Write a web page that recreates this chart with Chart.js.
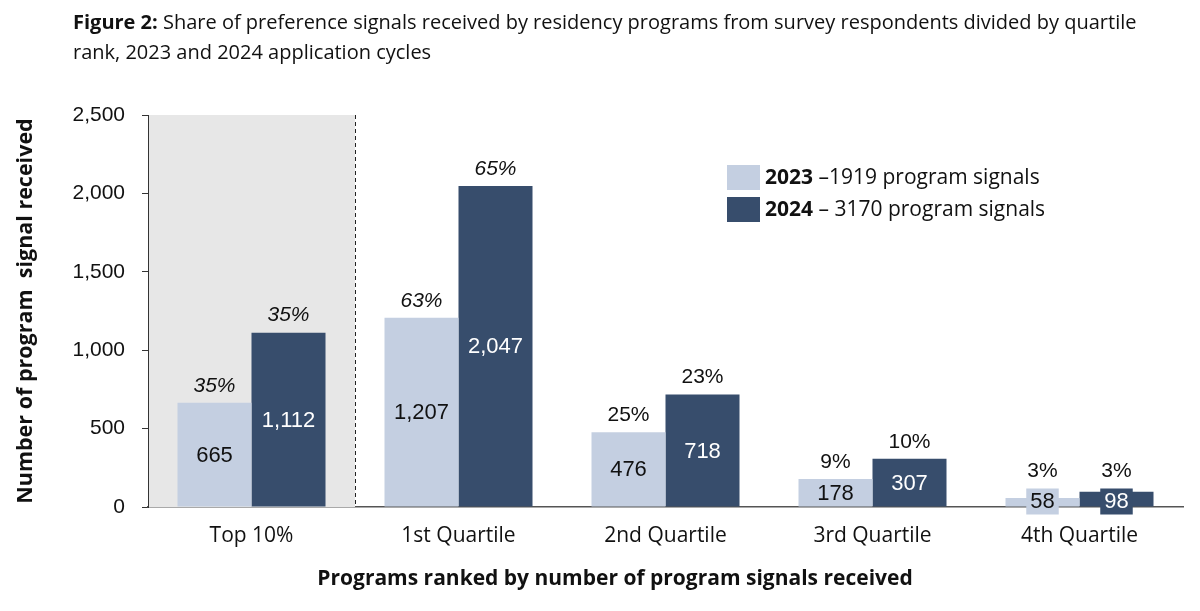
<!DOCTYPE html>
<html>
<head>
<meta charset="utf-8">
<script src="https://cdn.jsdelivr.net/npm/chart.js@4"></script>
<style>
  html, body { margin: 0; padding: 0; background: #fff; }
  #wrap { position: relative; width: 1200px; height: 611px; }
  #title {
    position: absolute; left: 73px; top: 7px;
    font-family: "Open Sans", sans-serif; font-size: 20px; line-height: 30px; color: #111;
    white-space: nowrap;
  }
  #xtitle {
    position: absolute; left: 215px; width: 800px; top: 563px; text-align: center;
    font-family: "Open Sans", sans-serif; font-weight: bold; font-size: 21px; color: #111;
  }
  canvas { position: absolute; left: 0; top: 0; }
</style>
</head>
<body>
<div id="wrap">
  <canvas id="chart" width="1200" height="611"></canvas>
  <div id="title"><b>Figure 2:</b> Share of preference signals received by residency programs from survey respondents divided by quartile<br>rank, 2023 and 2024 application cycles</div>
  <div id="xtitle">Programs ranked by number of program signals received</div>
</div>
<script>
const categories = ["Top 10%", "1st Quartile", "2nd Quartile", "3rd Quartile", "4th Quartile"];
const signals2023 = [665, 1207, 476, 178, 58];
const signals2024 = [1112, 2047, 718, 307, 98];
const share2023 = ["35%", "63%", "25%", "9%", "3%"];
const share2024 = ["35%", "65%", "23%", "10%", "3%"];
const yTicks = [0, 500, 1000, 1500, 2000, 2500];
const legendBold = ["2023", "2024"];
const legendRest = [" \u20131919 program signals", " \u2013 3170 program signals"];

const lightBlue = "#c4cfe1";
const darkBlue = "#374d6c";
const numFont = "Liberation Sans, Arial, sans-serif";
const txtFont = "Open Sans, sans-serif";

// grey band behind the Top 10% group plus dashed separator
const bandPlugin = {
    id: "band",
    beforeDatasetsDraw (chart) {
        const { ctx, chartArea, scales } = chart;
        const sep = (scales.x.getPixelForValue(0) + scales.x.getPixelForValue(1)) / 2;
        ctx.save();
        ctx.fillStyle = "#e7e7e7";
        ctx.fillRect(chartArea.left + 1, chartArea.top, sep - chartArea.left - 1, chartArea.bottom - chartArea.top);
        ctx.strokeStyle = "#222";
        ctx.lineWidth = 1;
        ctx.setLineDash([4, 3]);
        ctx.beginPath();
        ctx.moveTo(Math.round(sep) + 0.5, chartArea.top);
        ctx.lineTo(Math.round(sep) + 0.5, chartArea.bottom);
        ctx.stroke();
        ctx.restore();
    }
};

// value labels inside bars, share labels above, and the legend
const labelPlugin = {
    id: "labels",
    afterDatasetsDraw (chart) {
        const { ctx } = chart;
        const shares = [share2023, share2024];
        const textColors = ["#111", "#fff"];
        ctx.save();
        ctx.textAlign = "center";
        ctx.textBaseline = "middle";
        chart.data.datasets.forEach((ds, di) => {
            const meta = chart.getDatasetMeta(di);
            meta.data.forEach((bar, i) => {
                const txt = ds.data[i].toLocaleString("en-US");
                ctx.font = "22px " + numFont;
                const h = bar.base - bar.y;
                let cy = (bar.y + bar.base) / 2;
                let top = bar.y;
                if (h < 26) {
                    cy = bar.base - 6;
                    const w = ctx.measureText(txt).width + 8;
                    ctx.fillStyle = ds.backgroundColor;
                    ctx.fillRect(bar.x - w / 2, cy - 12, w, 26);
                    top = Math.min(top, cy - 12);
                }
                ctx.fillStyle = textColors[di];
                ctx.fillText(txt, bar.x, cy + 1);
                ctx.fillStyle = "#111";
                ctx.font = (i < 2 ? "italic " : "") + "21px " + numFont;
                ctx.fillText(shares[di][i], bar.x, top - 17);
            });
        });
        // legend
        const colors = [lightBlue, darkBlue];
        ctx.textAlign = "left";
        colors.forEach((c, k) => {
            const y = 165 + k * 32;
            ctx.fillStyle = c;
            ctx.fillRect(727, y, 33, 25);
            ctx.fillStyle = "#111";
            ctx.font = "bold 21px " + txtFont;
            ctx.fillText(legendBold[k], 765, y + 13);
            const bw = ctx.measureText(legendBold[k]).width;
            ctx.font = "21px " + txtFont;
            ctx.fillText(legendRest[k], 765 + bw, y + 13);
        });
        ctx.restore();
    }
};

new Chart(document.getElementById("chart"), {
    type: "bar",
    data: {
        labels: categories,
        datasets: [
            { label: "2023", data: signals2023, backgroundColor: lightBlue },
            { label: "2024", data: signals2024, backgroundColor: darkBlue },
        ],
    },
    options: {
        responsive: false,
        animation: false,
        devicePixelRatio: 1,
        categoryPercentage: 0.715,
        barPercentage: 1.0,
        layout: { padding: { top: 115, right: 17, bottom: 0, left: 0 } },
        plugins: { legend: { display: false }, tooltip: { enabled: false } },
        scales: {
            x: {
                afterFit (scale) { scale.height = 104; },
                grid: { display: false, drawTicks: false },
                border: { color: "#555", width: 1.5 },
                ticks: { color: "#111", padding: 16, font: { family: txtFont, size: 21 } },
            },
            y: {
                min: 0,
                max: 2500,
                afterFit (scale) { scale.width = 148; },
                afterBuildTicks (scale) { scale.ticks = yTicks.map(v => ({ value: v })); },
                grid: { drawOnChartArea: false, tickLength: 6, color: "#333" },
                border: { color: "#333", width: 1 },
                ticks: {
                    color: "#111",
                    padding: 17,
                    font: { family: numFont, size: 21 },
                    callback: v => v.toLocaleString("en-US"),
                },
                title: {
                    display: true,
                    text: "Number of program  signal received",
                    color: "#111",
                    padding: { top: 13, bottom: 0 },
                    font: { family: txtFont, size: 21.5, weight: "bold" },
                },
            },
        },
    },
    plugins: [bandPlugin, labelPlugin],
});
</script>
</body>
</html>
